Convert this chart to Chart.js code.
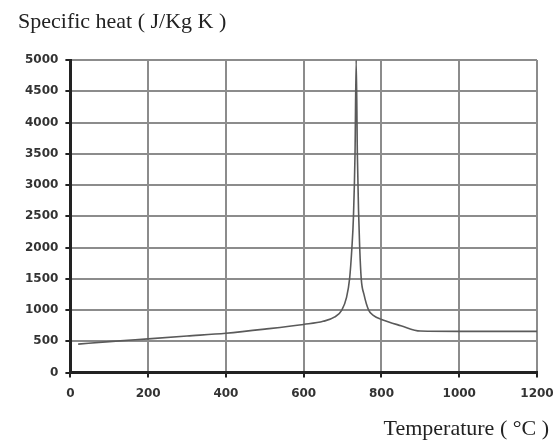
<!DOCTYPE html>
<html>
<head>
<meta charset="utf-8">
<script src="https://cdn.jsdelivr.net/npm/chart.js@4"></script>
<style>
	body { margin: 0; background: #fff; }
	#wrap { width: 557px; height: 441px; }
</style>
</head>
<body>
<div id="wrap"><canvas id="heat"></canvas></div>
<script>
// temperature in degC and specific heat in J/Kg K
var temps  = [20, 100, 200, 300, 400, 500, 600, 650, 680, 698, 710, 718, 724, 728, 732, 735, 738, 741, 744, 748, 755, 767, 780, 800, 850, 900, 1000, 1100, 1200];
var heat   = [455, 495, 540, 585, 630, 695, 770, 820, 890, 1000, 1200, 1500, 2000, 2500, 3500, 5000, 3500, 2600, 2000, 1500, 1250, 1000, 910, 850, 750, 665, 660, 660, 660];
var xTicks = [0, 200, 400, 600, 800, 1000, 1200];
var yTicks = [0, 500, 1000, 1500, 2000, 2500, 3000, 3500, 4000, 4500, 5000];
var yName  = 'Specific heat ( J/Kg K )';
var xName  = 'Temperature ( °C )';

var points = [];
for (var i = 0; i < temps.length; i++) {
	points.push({ x: temps[i], y: heat[i] });
}

var tickFont = { family: 'DejaVu Sans', size: 12, weight: 'bold' };

// axis names sit outside the plot box, top left and bottom right
var axisNames = {
	id: 'axisNames',
	afterDraw: function (c) {
		var ctx = c.ctx;
		ctx.save();
		ctx.fillStyle = '#222';
		ctx.font = '22px "Liberation Serif"';
		ctx.textBaseline = 'alphabetic';
		ctx.textAlign = 'left';
		ctx.fillText(yName, 18, 28);
		ctx.textAlign = 'right';
		ctx.fillText(xName, 549, 435);
		ctx.restore();
	}
};

var chart = new Chart(document.getElementById('heat'), {
	type: 'scatter',
	data: {
		datasets: [{
			data: points,
			showLine: true,
			borderColor: '#5a5a5a',
			borderWidth: 1.6,
			pointRadius: 0,
			cubicInterpolationMode: 'monotone'
		}]
	},
	options: {
		responsive: true,
		maintainAspectRatio: false,
		animation: false,
		layout: { padding: { left: 18, right: 20, top: 60, bottom: 31 } },
		plugins: {
			legend: { display: false },
			tooltip: { enabled: false }
		},
		scales: {
			x: {
				type: 'linear',
				min: 0,
				max: 1200,
				afterBuildTicks: function (s) { s.ticks = xTicks.map(function (v) { return { value: v }; }); },
				// let the last label hang into the right margin
				afterFit: function (s) { s.paddingRight = 0; },
				ticks: { color: '#333', font: tickFont, padding: 9, callback: function (v) { return v; } },
				grid: { color: '#8c8c8c', lineWidth: 2, tickColor: '#222', tickLength: 5 },
				border: { color: '#222', width: 3 }
			},
			y: {
				min: 0,
				max: 5000,
				afterBuildTicks: function (s) { s.ticks = yTicks.map(function (v) { return { value: v }; }); },
				ticks: { color: '#333', font: tickFont, padding: 7, callback: function (v) { return v; } },
				grid: { color: '#8c8c8c', lineWidth: 2, tickColor: '#222', tickLength: 5 },
				border: { color: '#222', width: 3 }
			}
		}
	},
	plugins: [axisNames]
});
</script>
</body>
</html>
